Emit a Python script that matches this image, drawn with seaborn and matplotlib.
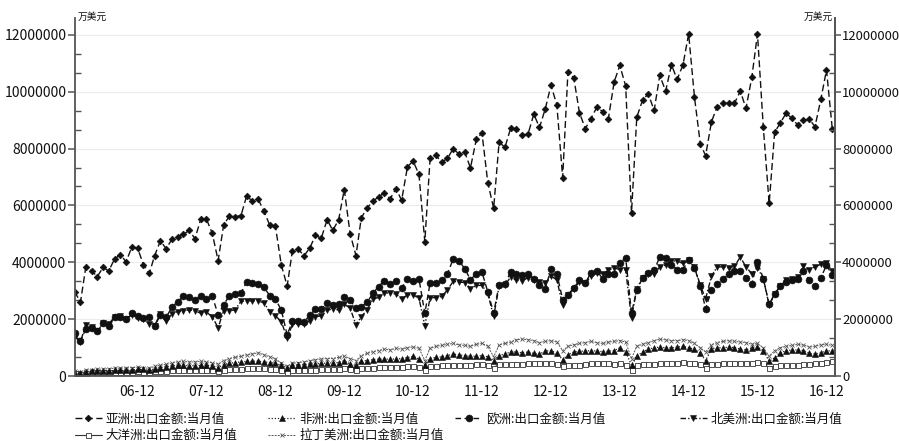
import numpy as np
import pandas as pd
import matplotlib
matplotlib.use("Agg")
import matplotlib.pyplot as plt
import matplotlib.dates as mdates
from matplotlib.ticker import MultipleLocator, FuncFormatter
from matplotlib.lines import Line2D
import seaborn as sns

sns.set_theme(style="white")
plt.rcParams["font.family"] = ["Noto Sans CJK SC", "DejaVu Sans"]

# ---------------- data (单位: 百万 × 万美元, i.e. value*1e6 = 万美元) ----------------
start_month = "2006-01"
unit_label = "万美元"

asia = [2.97, 2.60, 3.82, 3.70, 3.50, 3.82, 3.70, 4.12, 4.27, 4.02, 4.55, 4.50,
        3.92, 3.61, 4.23, 4.76, 4.48, 4.81, 4.90, 4.99, 5.12, 4.83, 5.52, 5.52,
        5.02, 4.06, 5.30, 5.64, 5.61, 5.64, 6.33, 6.15, 6.21, 5.80, 5.30, 5.26,
        3.91, 3.17, 4.41, 4.47, 4.23, 4.50, 4.95, 4.85, 5.50, 5.12, 5.50, 6.56,
        5.00, 4.24, 5.56, 5.91, 6.15, 6.30, 6.44, 6.23, 6.59, 6.18, 7.36, 7.56,
        7.09, 4.72, 7.65, 7.76, 7.52, 7.65, 7.99, 7.81, 7.87, 7.32, 8.32, 8.55,
        6.80, 5.90, 8.23, 8.04, 8.71, 8.69, 8.48, 8.50, 9.21, 8.74, 9.40, 10.22,
        9.54, 6.98, 10.70, 10.48, 9.26, 8.70, 9.05, 9.45, 9.30, 9.04, 10.34, 10.92,
        10.20, 5.74, 9.10, 9.71, 9.92, 9.34, 10.57, 10.02, 10.94, 10.43, 10.94, 12.03,
        9.80, 8.16, 7.75, 8.94, 9.47, 9.59, 9.59, 9.59, 10.02, 9.41, 10.50, 12.03,
        8.74, 6.07, 8.57, 8.91, 9.24, 9.06, 8.83, 9.00, 9.03, 8.77, 9.73, 10.76,
        8.67]

africa = [0.12, 0.10, 0.16, 0.17, 0.18, 0.19, 0.19, 0.20, 0.21, 0.22, 0.22, 0.24,
          0.24, 0.20, 0.26, 0.30, 0.33, 0.36, 0.38, 0.38, 0.37, 0.37, 0.38, 0.38,
          0.35, 0.30, 0.40, 0.45, 0.48, 0.50, 0.52, 0.52, 0.53, 0.50, 0.48, 0.46,
          0.38, 0.30, 0.38, 0.40, 0.40, 0.42, 0.44, 0.45, 0.46, 0.47, 0.48, 0.55,
          0.42, 0.38, 0.52, 0.55, 0.58, 0.60, 0.60, 0.60, 0.60, 0.62, 0.65, 0.70,
          0.60, 0.40, 0.62, 0.66, 0.68, 0.72, 0.78, 0.75, 0.72, 0.70, 0.70, 0.72,
          0.68, 0.55, 0.72, 0.78, 0.85, 0.85, 0.82, 0.85, 0.80, 0.78, 0.88, 0.90,
          0.80, 0.58, 0.75, 0.85, 0.88, 0.88, 0.90, 0.88, 0.86, 0.88, 0.90, 1.00,
          0.85, 0.38, 0.70, 0.85, 0.95, 1.00, 1.02, 1.00, 1.00, 1.02, 1.05, 1.00,
          0.95, 0.80, 0.55, 0.95, 1.00, 1.00, 1.02, 1.00, 0.95, 0.92, 1.00, 1.02,
          0.90, 0.52, 0.65, 0.82, 0.90, 0.92, 0.92, 0.90, 0.80, 0.78, 0.82, 0.90,
          0.88]

europe = [1.52, 1.23, 1.66, 1.70, 1.57, 1.86, 1.78, 2.09, 2.09, 2.01, 2.22, 2.12,
          2.05, 2.09, 1.75, 2.16, 2.07, 2.42, 2.62, 2.81, 2.77, 2.69, 2.81, 2.71,
          2.81, 2.16, 2.51, 2.83, 2.89, 2.91, 3.32, 3.27, 3.24, 3.12, 2.83, 2.70,
          2.33, 1.45, 1.94, 1.94, 1.89, 2.15, 2.35, 2.35, 2.56, 2.50, 2.54, 2.77,
          2.66, 2.39, 2.44, 2.59, 2.91, 3.15, 3.36, 3.24, 3.36, 3.11, 3.41, 3.36,
          3.42, 2.21, 3.27, 3.29, 3.38, 3.60, 4.11, 4.05, 3.78, 3.39, 3.60, 3.66,
          2.96, 2.22, 3.22, 3.25, 3.66, 3.60, 3.54, 3.58, 3.43, 3.19, 3.08, 3.76,
          3.60, 2.69, 2.86, 3.10, 3.37, 3.27, 3.64, 3.70, 3.43, 3.60, 3.60, 3.96,
          4.17, 2.22, 3.02, 3.46, 3.64, 3.72, 4.19, 4.17, 3.92, 3.74, 3.74, 4.10,
          3.81, 3.17, 2.37, 3.02, 3.25, 3.43, 3.58, 3.70, 3.70, 3.46, 3.25, 4.01,
          3.43, 2.52, 2.90, 3.17, 3.31, 3.37, 3.43, 3.70, 3.37, 3.17, 3.46, 3.90,
          3.54]

north_america = [1.40, 1.20, 1.81, 1.72, 1.60, 1.86, 1.84, 2.07, 2.13, 2.01, 2.16, 2.05,
                 2.01, 1.84, 1.78, 2.19, 1.93, 2.19, 2.27, 2.30, 2.33, 2.30, 2.21, 2.25,
                 2.09, 1.70, 2.30, 2.30, 2.33, 2.63, 2.63, 2.65, 2.65, 2.57, 2.27, 2.12,
                 1.92, 1.33, 1.82, 1.82, 1.82, 1.95, 2.09, 2.12, 2.33, 2.35, 2.33, 2.53,
                 2.39, 1.80, 2.09, 2.33, 2.70, 2.77, 2.94, 2.91, 2.89, 2.71, 2.86, 2.86,
                 2.74, 1.77, 2.76, 2.76, 2.80, 3.03, 3.33, 3.31, 3.29, 3.08, 3.19, 3.19,
                 2.90, 2.10, 3.16, 3.19, 3.49, 3.37, 3.35, 3.46, 3.37, 3.31, 3.27, 3.51,
                 3.39, 2.49, 2.86, 3.08, 3.31, 3.27, 3.51, 3.63, 3.60, 3.72, 3.81, 3.74,
                 3.74, 2.04, 3.08, 3.46, 3.60, 3.60, 3.84, 3.90, 4.05, 4.05, 3.96, 4.07,
                 3.84, 3.19, 2.72, 3.51, 3.84, 3.84, 3.81, 3.86, 4.19, 3.84, 3.60, 3.81,
                 3.43, 2.49, 2.88, 3.17, 3.37, 3.43, 3.49, 3.86, 3.74, 3.84, 3.93, 3.96,
                 3.70]

oceania = [0.10, 0.09, 0.12, 0.13, 0.13, 0.14, 0.14, 0.15, 0.15, 0.16, 0.16, 0.17,
           0.16, 0.14, 0.17, 0.18, 0.19, 0.20, 0.21, 0.22, 0.21, 0.21, 0.22, 0.22,
           0.20, 0.18, 0.22, 0.24, 0.25, 0.26, 0.27, 0.28, 0.28, 0.27, 0.26, 0.26,
           0.20, 0.15, 0.20, 0.21, 0.21, 0.22, 0.23, 0.24, 0.25, 0.25, 0.26, 0.28,
           0.24, 0.22, 0.28, 0.29, 0.30, 0.31, 0.32, 0.32, 0.33, 0.33, 0.35, 0.37,
           0.33, 0.22, 0.35, 0.37, 0.38, 0.39, 0.40, 0.41, 0.40, 0.40, 0.42, 0.44,
           0.40, 0.30, 0.42, 0.42, 0.43, 0.43, 0.43, 0.45, 0.45, 0.46, 0.46, 0.48,
           0.42, 0.35, 0.38, 0.40, 0.41, 0.44, 0.45, 0.46, 0.46, 0.46, 0.44, 0.48,
           0.40, 0.22, 0.40, 0.42, 0.43, 0.44, 0.45, 0.46, 0.48, 0.48, 0.50, 0.48,
           0.45, 0.42, 0.28, 0.42, 0.44, 0.46, 0.48, 0.48, 0.48, 0.48, 0.46, 0.50,
           0.45, 0.30, 0.36, 0.38, 0.38, 0.40, 0.40, 0.42, 0.44, 0.45, 0.47, 0.50,
           0.52]

latin_america = [0.17, 0.15, 0.22, 0.22, 0.24, 0.25, 0.26, 0.28, 0.28, 0.29, 0.30, 0.31,
                 0.30, 0.27, 0.35, 0.38, 0.42, 0.46, 0.50, 0.52, 0.50, 0.50, 0.52, 0.50,
                 0.47, 0.42, 0.55, 0.62, 0.66, 0.70, 0.75, 0.78, 0.82, 0.75, 0.68, 0.62,
                 0.45, 0.35, 0.45, 0.48, 0.50, 0.54, 0.58, 0.60, 0.62, 0.62, 0.66, 0.70,
                 0.62, 0.55, 0.72, 0.80, 0.86, 0.90, 0.95, 0.92, 0.98, 0.95, 1.00, 1.03,
                 0.98, 0.55, 0.98, 1.05, 1.08, 1.12, 1.15, 1.10, 1.08, 1.05, 1.12, 1.15,
                 1.05, 0.68, 1.10, 1.15, 1.20, 1.28, 1.30, 1.28, 1.25, 1.18, 1.22, 1.25,
                 1.20, 0.90, 1.05, 1.10, 1.15, 1.18, 1.22, 1.18, 1.15, 1.20, 1.22, 1.25,
                 1.20, 0.62, 1.05, 1.12, 1.18, 1.25, 1.30, 1.28, 1.25, 1.25, 1.28, 1.25,
                 1.15, 1.00, 0.85, 1.10, 1.18, 1.22, 1.25, 1.22, 1.20, 1.18, 1.12, 1.15,
                 1.00, 0.70, 0.90, 1.00, 1.05, 1.08, 1.12, 1.10, 1.02, 1.05, 1.10, 1.12,
                 1.08]

series_labels = ["亚洲:出口金额:当月值", "非洲:出口金额:当月值", "欧洲:出口金额:当月值",
                 "北美洲:出口金额:当月值", "大洋洲:出口金额:当月值", "拉丁美洲:出口金额:当月值"]
series_values = [asia, africa, europe, north_america, oceania, latin_america]

# ---------------- styles ----------------
styles = [
    dict(color="#111111", linestyle=(0, (5, 2.5)), linewidth=1.0, marker="D", markersize=3.4,
         markerfacecolor="#111111", markeredgecolor="#111111", markeredgewidth=0.5),
    dict(color="#222222", linestyle=(0, (1, 1.5)), linewidth=0.9, marker="^", markersize=4.2,
         markerfacecolor="#111111", markeredgecolor="#111111", markeredgewidth=0.4),
    dict(color="#111111", linestyle=(0, (4, 2.5)), linewidth=1.0, marker="o", markersize=5.0,
         markerfacecolor="#111111", markeredgecolor="#111111", markeredgewidth=0.4),
    dict(color="#111111", linestyle=(0, (4, 1.5, 1, 1.5)), linewidth=1.0, marker="v", markersize=4.8,
         markerfacecolor="#111111", markeredgecolor="#111111", markeredgewidth=0.4),
    dict(color="#333333", linestyle="-", linewidth=0.8, marker="s", markersize=3.6,
         markerfacecolor="white", markeredgecolor="#333333", markeredgewidth=0.6),
    dict(color="#555555", linestyle=(0, (2, 1.2)), linewidth=0.7, marker="x", markersize=3.0,
         markerfacecolor="#555555", markeredgecolor="#555555", markeredgewidth=0.6),
]

months = pd.date_range(start_month, periods=len(asia), freq="MS")

fig = plt.figure(figsize=(8.99, 4.41), dpi=100)
ax = fig.add_axes([0.083, 0.147, 0.846, 0.813])

draw_order = [5, 4, 1, 3, 2, 0]
for k in draw_order:
    vals = np.asarray(series_values[k]) * 1e6
    sns.lineplot(x=months, y=vals, ax=ax, errorbar=None, legend=False, **styles[k])

ymax = 12.6e6
ax.set_ylim(0, ymax)
ax.set_xlim(months[0], months[-1] + pd.Timedelta(days=15))

# grid
ax.yaxis.set_major_locator(MultipleLocator(2e6))
ax.yaxis.set_minor_locator(MultipleLocator(2e6 / 3))
ax.grid(axis="y", which="major", color="#ececec", linewidth=0.8)
ax.grid(axis="x", visible=False)
ax.set_axisbelow(True)
fmt = FuncFormatter(lambda v, p: f"{int(round(v))}")
ax.yaxis.set_major_formatter(fmt)

ax.xaxis.set_major_locator(mdates.MonthLocator(bymonth=12))
ax.xaxis.set_minor_locator(mdates.MonthLocator(bymonth=[3, 6, 9]))
ax.xaxis.set_major_formatter(mdates.DateFormatter("%y-%m"))

spine_col = "#555555"
for s in ["left", "bottom", "right"]:
    ax.spines[s].set_color(spine_col)
    ax.spines[s].set_linewidth(1.3)
ax.spines["top"].set_visible(False)

ax.tick_params(axis="x", which="major", direction="inout", length=8, width=1.1, color=spine_col,
               labelsize=10, pad=2, labelcolor="#111111")
ax.tick_params(axis="x", which="minor", direction="in", length=4, width=1.0, color=spine_col)
ax.tick_params(axis="y", which="major", direction="out", length=5, width=1.1, color=spine_col,
               labelsize=10, pad=1, labelcolor="#111111")
ax.tick_params(axis="y", which="minor", direction="in", length=4, width=1.0, color=spine_col,
               left=True)
ax.set_xlabel("")
ax.set_ylabel("")

ax2 = ax.twinx()
ax2.set_ylim(0, ymax)
ax2.yaxis.set_major_locator(MultipleLocator(2e6))
ax2.yaxis.set_minor_locator(MultipleLocator(2e6 / 3))
ax2.yaxis.set_major_formatter(fmt)
for s in ["left", "bottom", "top"]:
    ax2.spines[s].set_visible(False)
ax2.spines["right"].set_color(spine_col)
ax2.spines["right"].set_linewidth(1.3)
ax2.tick_params(axis="y", which="major", direction="out", length=4, width=1.1, color=spine_col,
                labelsize=9.4, pad=1, labelcolor="#111111")
ax2.tick_params(axis="y", which="minor", direction="in", length=4, width=1.0, color=spine_col,
                right=True)
ax2.grid(False)

# unit labels
fig.text(0.086, 0.962, unit_label, fontsize=7, ha="left", va="center", color="#111111")
fig.text(0.926, 0.962, unit_label, fontsize=7, ha="right", va="center", color="#111111")

# legend (4 columns placed individually)
def handle(k):
    return Line2D([], [], **styles[k])

columns = [([0, 4], 0.083), ([1, 5], 0.298), ([2], 0.506), ([3], 0.756)]
for idxs, xpos in columns:
    leg = fig.legend([handle(k) for k in idxs], [series_labels[k] for k in idxs],
                     loc="upper left", bbox_to_anchor=(xpos, 0.064), frameon=False,
                     fontsize=9, handlelength=2.2, handletextpad=0.3, labelspacing=0.25,
                     borderaxespad=0, borderpad=0, ncol=1)
    for t in leg.get_texts():
        t.set_color("#111111")

fig.savefig("out.png", dpi=100)
